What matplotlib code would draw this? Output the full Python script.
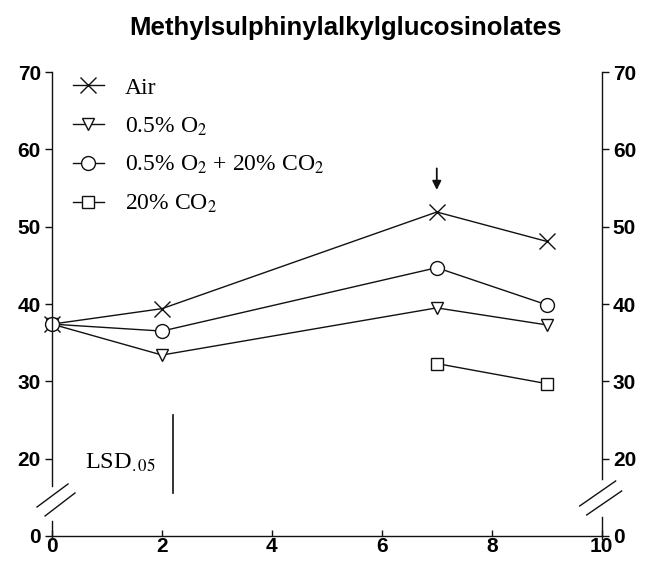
import matplotlib.pyplot as plt
import numpy as np

plt.rcParams['font.family'] = ['Liberation Sans', 'DejaVu Sans']
plt.rcParams['mathtext.fontset'] = 'stix'

# data (y axis is broken: 0 on the axis sits at display value 10)
days = [0, 2, 7, 9]
air = [37.4, 39.4, 51.9, 48.1]
o2 = [37.4, 33.4, 39.5, 37.3]
o2_co2 = [37.4, 36.5, 44.7, 39.9]
co2_days = [7, 9]
co2 = [32.3, 29.7]
labels = ['Air', '0.5% O$_2$', '0.5% O$_2$ + 20% CO$_2$', '20% CO$_2$']

lsd_x = 2.2
lsd_lo, lsd_hi = 15.6, 25.6
arrow_day = 7

yticks = [10, 20, 30, 40, 50, 60, 70]
yticklabels = ['0', '20', '30', '40', '50', '60', '70']
xticks = [0, 2, 4, 6, 8, 10]

fig = plt.figure(figsize=(6.52, 5.63), dpi=100)
ax = fig.add_axes([0.0798, 0.048, 0.843, 0.824])

lc = '#111111'
kw = dict(color=lc, lw=1.0, clip_on=False, markerfacecolor='white',
          markeredgecolor=lc, markeredgewidth=1.0)
ax.plot(days, air, marker='x', ms=11, label=labels[0], **kw)
ax.plot(days, o2, marker='v', ms=9, label=labels[1], **kw)
ax.plot(days, o2_co2, marker='o', ms=10, label=labels[2], **kw)
ax.plot(co2_days, co2, marker='s', ms=9, label=labels[3], **kw)

ax.set_xlim(0, 10)
ax.set_ylim(10, 70)
ax.set_xticks(xticks)
ax.set_yticks(yticks)
ax.set_yticklabels(yticklabels)

for s in ['top', 'left', 'right']:
    ax.spines[s].set_visible(False)
ax.spines['bottom'].set_linewidth(1.0)
ax.spines['bottom'].set_color(lc)

# broken y spines on both sides
for xs, top_lo, stub_hi in [(0, 16.5, 12.0), (10, 17.4, 12.5)]:
    ax.plot([xs, xs], [top_lo, 70], color=lc, lw=1.0, clip_on=False)
    ax.plot([xs, xs], [9.6, stub_hi], color=lc, lw=1.0, clip_on=False)

# break slashes (axes fraction coords)
def slash(x0, y0, x1, y1):
    ax.plot([x0, x1], [y0, y1], transform=ax.transAxes, color=lc, lw=1.0, clip_on=False)

W, H = 550.0, 464.0
for (ax0, ay0, ax1, ay1) in [(37, 507, 68, 484), (45, 516, 75, 493),
                             (580, 506, 616, 481), (587, 515, 622, 491)]:
    slash((ax0 - 52) / W, (536 - ay0) / H, (ax1 - 52) / W, (536 - ay1) / H)

ax.tick_params(axis='both', labelsize=15, color=lc, width=1.0)
ax.tick_params(axis='x', direction='in', length=4, pad=1)
ax.tick_params(axis='y', direction='out', length=5, pad=3, left=True, right=True,
               labelleft=True, labelright=True)
for t in ax.get_xticklabels() + ax.get_yticklabels():
    t.set_fontweight('bold')

# LSD bar
ax.plot([lsd_x, lsd_x], [lsd_lo, lsd_hi], color=lc, lw=1.2)
ax.text(0.6, 19.4, 'LSD$_{.05}$', fontsize=17.5, family='Liberation Serif',
        va='center', ha='left')

# arrow over day 7
ax.annotate('', xy=(arrow_day, 54.4), xytext=(arrow_day, 57.9),
            arrowprops=dict(arrowstyle='-|>', color=lc, lw=1.3, mutation_scale=13))

leg = ax.legend(loc='upper left', bbox_to_anchor=(0.038, 0.989), frameon=False,
                prop={'family': 'Liberation Serif', 'size': 17}, borderpad=0,
                borderaxespad=0, handlelength=1.3, labelspacing=0.7,
                handletextpad=0.9)

fig.text(0.53, 0.95, 'Methylsulphinylalkylglucosinolates', ha='center', va='center',
         fontsize=18.5, fontweight='bold')

plt.savefig('out.png', dpi=100)
